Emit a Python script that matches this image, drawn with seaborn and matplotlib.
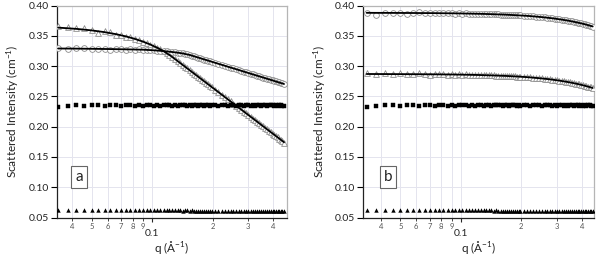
import matplotlib
matplotlib.use("Agg")
import matplotlib.pyplot as plt
import matplotlib.ticker as mticker
import seaborn as sns

# ---------------- data ----------------
Q = [0.034, 0.038, 0.042, 0.046, 0.050, 0.054, 0.058, 0.062, 0.066, 0.070,
     0.074, 0.078, 0.082, 0.086, 0.090, 0.094, 0.098, 0.102, 0.106, 0.110,
     0.114, 0.118, 0.122, 0.126, 0.130, 0.134, 0.138, 0.142, 0.146, 0.150,
     0.154, 0.158, 0.162, 0.166, 0.170, 0.174, 0.178, 0.182, 0.186, 0.190,
     0.194, 0.198, 0.206, 0.214, 0.222, 0.230, 0.238, 0.246, 0.254, 0.262,
     0.270, 0.278, 0.286, 0.294, 0.302, 0.310, 0.318, 0.326, 0.334, 0.342,
     0.350, 0.358, 0.366, 0.374, 0.382, 0.390, 0.398, 0.406, 0.414, 0.422,
     0.430, 0.438, 0.446, 0.454]

# panel a: open triangles (strongly decaying)
A_TRI = [0.3665, 0.3652, 0.3633, 0.3628, 0.3595, 0.3552, 0.3577, 0.3560, 0.3520, 0.3517,
         0.3485, 0.3478, 0.3446, 0.3430, 0.3399, 0.3384, 0.3351, 0.3330, 0.3298, 0.3279,
         0.3244, 0.3218, 0.3180, 0.3153, 0.3113, 0.3085, 0.3049, 0.3020, 0.2987, 0.2960,
         0.2928, 0.2903, 0.2874, 0.2849, 0.2820, 0.2797, 0.2770, 0.2748, 0.2722, 0.2701,
         0.2676, 0.2655, 0.2610, 0.2570, 0.2528, 0.2491, 0.2451, 0.2417, 0.2380, 0.2348,
         0.2312, 0.2282, 0.2249, 0.2221, 0.2189, 0.2163, 0.2133, 0.2107, 0.2079, 0.2055,
         0.2027, 0.2004, 0.1978, 0.1956, 0.1931, 0.1910, 0.1886, 0.1866, 0.1843, 0.1822,
         0.1803, 0.1781, 0.1763, 0.1738]
# panel a: open circles (weakly decaying)
A_CIR = [0.3292, 0.3280, 0.3293, 0.3295, 0.3278, 0.3290, 0.3286, 0.3272, 0.3283, 0.3280,
         0.3270, 0.3279, 0.3271, 0.3276, 0.3266, 0.3269, 0.3262, 0.3262, 0.3254, 0.3253,
         0.3245, 0.3243, 0.3236, 0.3233, 0.3226, 0.3222, 0.3214, 0.3210, 0.3201, 0.3196,
         0.3184, 0.3171, 0.3162, 0.3149, 0.3141, 0.3128, 0.3120, 0.3108, 0.3101, 0.3089,
         0.3082, 0.3071, 0.3055, 0.3037, 0.3022, 0.3005, 0.2991, 0.2975, 0.2963, 0.2947,
         0.2936, 0.2921, 0.2910, 0.2896, 0.2886, 0.2872, 0.2863, 0.2850, 0.2841, 0.2829,
         0.2821, 0.2809, 0.2801, 0.2789, 0.2782, 0.2771, 0.2764, 0.2753, 0.2746, 0.2736,
         0.2729, 0.2719, 0.2713, 0.2700]
# panel b: open circles (top)
B_CIR = [0.3875, 0.3850, 0.3882, 0.3884, 0.3880, 0.3852, 0.3879, 0.3893, 0.3876, 0.3870,
         0.3881, 0.3872, 0.3879, 0.3868, 0.3874, 0.3866, 0.3873, 0.3864, 0.3870, 0.3862,
         0.3867, 0.3860, 0.3866, 0.3859, 0.3863, 0.3857, 0.3861, 0.3855, 0.3858, 0.3853,
         0.3854, 0.3851, 0.3851, 0.3848, 0.3848, 0.3845, 0.3845, 0.3842, 0.3842, 0.3838,
         0.3838, 0.3835, 0.3833, 0.3828, 0.3826, 0.3820, 0.3817, 0.3811, 0.3809, 0.3802,
         0.3799, 0.3793, 0.3790, 0.3782, 0.3779, 0.3772, 0.3768, 0.3761, 0.3757, 0.3749,
         0.3745, 0.3737, 0.3732, 0.3724, 0.3719, 0.3711, 0.3706, 0.3697, 0.3692, 0.3683,
         0.3677, 0.3668, 0.3662, 0.3650]
# panel b: open triangles (middle)
B_TRI = [0.2880, 0.2874, 0.2884, 0.2870, 0.2879, 0.2876, 0.2866, 0.2882, 0.2869, 0.2860,
         0.2872, 0.2866, 0.2874, 0.2859, 0.2868, 0.2857, 0.2865, 0.2856, 0.2861, 0.2853,
         0.2859, 0.2851, 0.2857, 0.2849, 0.2853, 0.2847, 0.2851, 0.2845, 0.2848, 0.2842,
         0.2843, 0.2840, 0.2840, 0.2837, 0.2837, 0.2834, 0.2834, 0.2830, 0.2831, 0.2827,
         0.2827, 0.2823, 0.2822, 0.2816, 0.2814, 0.2808, 0.2805, 0.2799, 0.2796, 0.2790,
         0.2787, 0.2780, 0.2777, 0.2769, 0.2766, 0.2759, 0.2755, 0.2747, 0.2743, 0.2735,
         0.2731, 0.2723, 0.2718, 0.2710, 0.2705, 0.2696, 0.2691, 0.2682, 0.2677, 0.2668,
         0.2662, 0.2653, 0.2647, 0.2632]
# filled squares (flat level)
A_SQ = [0.2320, 0.2346, 0.2352, 0.2349, 0.2353, 0.2350, 0.2348, 0.2352, 0.2351, 0.2347,
        0.2353, 0.2350, 0.2349, 0.2352, 0.2348, 0.2351, 0.2354, 0.2349, 0.2350, 0.2346,
        0.2352, 0.2350, 0.2355, 0.2348, 0.2351, 0.2345, 0.2353, 0.2350, 0.2356, 0.2349,
        0.2352, 0.2347, 0.2354, 0.2351, 0.2348, 0.2355, 0.2350, 0.2346, 0.2353, 0.2351,
        0.2349, 0.2356, 0.2352, 0.2347, 0.2354, 0.2350, 0.2345, 0.2355, 0.2351, 0.2348,
        0.2356, 0.2350, 0.2346, 0.2353, 0.2357, 0.2349, 0.2352, 0.2345, 0.2355, 0.2350,
        0.2348, 0.2356, 0.2351, 0.2346, 0.2354, 0.2350, 0.2357, 0.2348, 0.2352, 0.2345,
        0.2355, 0.2351, 0.2349, 0.2343]
B_SQ = [0.2322, 0.2349, 0.2351, 0.2353, 0.2348, 0.2352, 0.2350, 0.2349, 0.2354, 0.2350,
        0.2348, 0.2352, 0.2351, 0.2349, 0.2353, 0.2347, 0.2352, 0.2350, 0.2355, 0.2349,
        0.2351, 0.2346, 0.2353, 0.2350, 0.2348, 0.2356, 0.2352, 0.2347, 0.2351, 0.2357,
        0.2350, 0.2353, 0.2348, 0.2355, 0.2351, 0.2346, 0.2354, 0.2350, 0.2357, 0.2349,
        0.2352, 0.2347, 0.2355, 0.2351, 0.2348, 0.2356, 0.2350, 0.2353, 0.2346, 0.2354,
        0.2350, 0.2357, 0.2348, 0.2352, 0.2345, 0.2355, 0.2351, 0.2349, 0.2356, 0.2347,
        0.2353, 0.2350, 0.2346, 0.2355, 0.2351, 0.2348, 0.2357, 0.2349, 0.2352, 0.2346,
        0.2354, 0.2350, 0.2348, 0.2342]
# filled triangles (low flat level)
A_FT = [0.0621, 0.0619, 0.0622, 0.0620, 0.0623, 0.0619, 0.0620, 0.0621, 0.0619, 0.0620,
        0.0620, 0.0618, 0.0620, 0.0619, 0.0619, 0.0618, 0.0619, 0.0617, 0.0618, 0.0618,
        0.0617, 0.0618, 0.0616, 0.0617, 0.0617, 0.0616, 0.0617, 0.0615, 0.0616, 0.0616,
        0.0615, 0.0616, 0.0614, 0.0615, 0.0615, 0.0614, 0.0615, 0.0613, 0.0614, 0.0614,
        0.0613, 0.0614, 0.0612, 0.0613, 0.0612, 0.0612, 0.0611, 0.0612, 0.0611, 0.0611,
        0.0610, 0.0611, 0.0610, 0.0610, 0.0609, 0.0610, 0.0609, 0.0609, 0.0608, 0.0609,
        0.0608, 0.0608, 0.0607, 0.0608, 0.0607, 0.0607, 0.0606, 0.0607, 0.0606, 0.0606,
        0.0605, 0.0606, 0.0605, 0.0603]
B_FT = [0.0622, 0.0620, 0.0621, 0.0623, 0.0620, 0.0621, 0.0619, 0.0621, 0.0620, 0.0619,
        0.0620, 0.0619, 0.0619, 0.0620, 0.0618, 0.0619, 0.0618, 0.0618, 0.0617, 0.0618,
        0.0617, 0.0617, 0.0617, 0.0616, 0.0617, 0.0616, 0.0616, 0.0616, 0.0615, 0.0616,
        0.0615, 0.0615, 0.0615, 0.0614, 0.0615, 0.0614, 0.0614, 0.0614, 0.0613, 0.0614,
        0.0613, 0.0613, 0.0612, 0.0612, 0.0612, 0.0611, 0.0612, 0.0611, 0.0611, 0.0610,
        0.0611, 0.0610, 0.0610, 0.0609, 0.0610, 0.0609, 0.0609, 0.0608, 0.0609, 0.0608,
        0.0608, 0.0607, 0.0608, 0.0607, 0.0607, 0.0606, 0.0607, 0.0606, 0.0606, 0.0605,
        0.0606, 0.0605, 0.0604, 0.0602]

# model fits (solid lines)
LQ = [0.034, 0.042, 0.050, 0.058, 0.066, 0.074, 0.082, 0.090, 0.098, 0.106,
      0.114, 0.122, 0.130, 0.142, 0.154, 0.166, 0.178, 0.190, 0.206, 0.222,
      0.238, 0.254, 0.270, 0.286, 0.302, 0.318, 0.334, 0.350, 0.366, 0.382,
      0.398, 0.414, 0.430, 0.446, 0.454]
FIT_A_TRI = [0.3635, 0.3614, 0.3589, 0.3560, 0.3527, 0.3490, 0.3449, 0.3404, 0.3355, 0.3303,
             0.3247, 0.3184, 0.3116, 0.3019, 0.2930, 0.2848, 0.2771, 0.2700, 0.2611, 0.2529,
             0.2452, 0.2381, 0.2313, 0.2250, 0.2190, 0.2134, 0.2080, 0.2028, 0.1979, 0.1932,
             0.1887, 0.1844, 0.1802, 0.1762, 0.1742]
FIT_A_CIR = [0.3290, 0.3288, 0.3285, 0.3282, 0.3279, 0.3276, 0.3273, 0.3270, 0.3264, 0.3256,
             0.3247, 0.3237, 0.3227, 0.3209, 0.3183, 0.3150, 0.3119, 0.3090, 0.3054, 0.3021,
             0.2990, 0.2962, 0.2935, 0.2909, 0.2885, 0.2862, 0.2840, 0.2820, 0.2800, 0.2781,
             0.2763, 0.2745, 0.2728, 0.2712, 0.2704]
FIT_B_CIR = [0.3879, 0.3878, 0.3877, 0.3876, 0.3875, 0.3874, 0.3872, 0.3871, 0.3869, 0.3867,
             0.3865, 0.3863, 0.3861, 0.3857, 0.3853, 0.3849, 0.3844, 0.3839, 0.3832, 0.3825,
             0.3816, 0.3808, 0.3798, 0.3789, 0.3778, 0.3767, 0.3756, 0.3744, 0.3731, 0.3718,
             0.3705, 0.3691, 0.3676, 0.3661, 0.3654]
FIT_B_TRI = [0.2869, 0.2868, 0.2867, 0.2866, 0.2865, 0.2864, 0.2862, 0.2861, 0.2859, 0.2857,
             0.2855, 0.2853, 0.2850, 0.2846, 0.2842, 0.2838, 0.2833, 0.2828, 0.2821, 0.2813,
             0.2804, 0.2795, 0.2786, 0.2776, 0.2765, 0.2754, 0.2742, 0.2730, 0.2717, 0.2704,
             0.2690, 0.2676, 0.2661, 0.2646, 0.2638]

YTICKS = [0.05, 0.10, 0.15, 0.20, 0.25, 0.30, 0.35, 0.40]
MINOR_TICKS = [0.04, 0.05, 0.06, 0.07, 0.08, 0.09, 0.2, 0.3, 0.4]
MINOR_LABELS = ["4", "5", "6", "7", "8", "9", "2", "3", "4"]
PANEL_LABELS = ["a", "b"]

# ---------------- style ----------------
sns.set_style("white")
plt.rcParams["font.family"] = ["Lato", "DejaVu Sans"]
plt.rcParams["mathtext.fontset"] = "custom"
plt.rcParams["mathtext.rm"] = "Lato"
plt.rcParams["mathtext.it"] = "Lato"
plt.rcParams["mathtext.default"] = "regular"

W, H = 601, 258
fig = plt.figure(figsize=(W / 100, H / 100), dpi=100)
AX_BOTTOM, AX_H = 40.5, 212
axA = fig.add_axes([57 / W, AX_BOTTOM / H, 229.5 / W, AX_H / H])
axB = fig.add_axes([363.3 / W, AX_BOTTOM / H, 231 / W, AX_H / H])

OPEN_EDGE = "#8c8c8c"
GRID = "#e4e4ee"
TXT = "#222222"


def draw(ax, hollow, fits, sq, ft, xlim, label, label_x):
    ax.set_xscale("log")
    for (vals, mk) in hollow:
        sns.scatterplot(x=Q, y=vals, ax=ax, marker=mk, s=17, facecolor="white",
                        edgecolor=OPEN_EDGE, linewidth=0.6, zorder=3, legend=False)
    for fy in fits:
        sns.lineplot(x=LQ, y=fy, ax=ax, color="black", linewidth=1.3,
                     estimator=None, sort=False, zorder=4, legend=False)
    sns.scatterplot(x=Q, y=sq, ax=ax, marker="s", s=9, color="black",
                    linewidth=0.3, edgecolor="black", zorder=3, legend=False)
    sns.scatterplot(x=Q, y=ft, ax=ax, marker="^", s=10, color="black",
                    linewidth=0, zorder=3, legend=False)

    ax.set_xlim(*xlim)
    ax.set_ylim(0.05, 0.40)
    ax.set_yticks(YTICKS)
    ax.set_yticklabels([f"{t:.2f}" for t in YTICKS])
    ax.xaxis.set_major_locator(mticker.FixedLocator([0.1]))
    ax.xaxis.set_major_formatter(mticker.FixedFormatter(["0.1"]))
    ax.xaxis.set_minor_locator(mticker.FixedLocator(MINOR_TICKS))
    ax.xaxis.set_minor_formatter(mticker.FixedFormatter(MINOR_LABELS))

    ax.tick_params(axis="y", which="major", direction="out", length=4, width=0.8,
                   labelsize=7.5, pad=2, color="black", left=True, labelcolor=TXT)
    ax.tick_params(axis="x", which="major", direction="out", length=3, width=0.8,
                   labelsize=7.5, pad=5, bottom=True, labelcolor=TXT)
    ax.tick_params(axis="x", which="minor", direction="out", length=2.2, width=0.6,
                   labelsize=5.5, pad=1.5, labelcolor="#555555", bottom=True)

    ax.grid(True, which="both", axis="x", color=GRID, linewidth=0.7, zorder=0)
    ax.grid(True, which="major", axis="y", color=GRID, linewidth=0.7, zorder=0)
    ax.set_axisbelow(True)

    for side in ["left", "bottom"]:
        ax.spines[side].set_color(TXT)
        ax.spines[side].set_linewidth(0.9)
    for side in ["top", "right"]:
        ax.spines[side].set_color("#b5b5b5")
        ax.spines[side].set_linewidth(0.9)

    ax.set_ylabel("Scattered Intensity (cm$^{-1}$)", fontsize=8.5, labelpad=5,
                  color=TXT)
    ax.set_xlabel("q (Å$^{-1}$)", fontsize=8.5, color=TXT)
    # centre of x-axis title sits ~248 px from the top of the figure
    ax.xaxis.set_label_coords(0.5, (H - 248 - AX_BOTTOM) / AX_H)
    ax.xaxis.label.set_verticalalignment("center")
    ax.text(label_x, 0.192, label, transform=ax.transAxes, fontsize=11,
            ha="center", va="center", color=TXT,
            bbox=dict(boxstyle="square,pad=0.25", fc="white", ec="#666666", lw=0.8))


draw(axA, [(A_TRI, "^"), (A_CIR, "o")], [FIT_A_TRI, FIT_A_CIR], A_SQ, A_FT,
     (0.0336, 0.467), PANEL_LABELS[0], 0.096)
draw(axB, [(B_CIR, "o"), (B_TRI, "^")], [FIT_B_CIR, FIT_B_TRI], B_SQ, B_FT,
     (0.0327, 0.4625), PANEL_LABELS[1], 0.107)

fig.savefig("out.png", dpi=100)
